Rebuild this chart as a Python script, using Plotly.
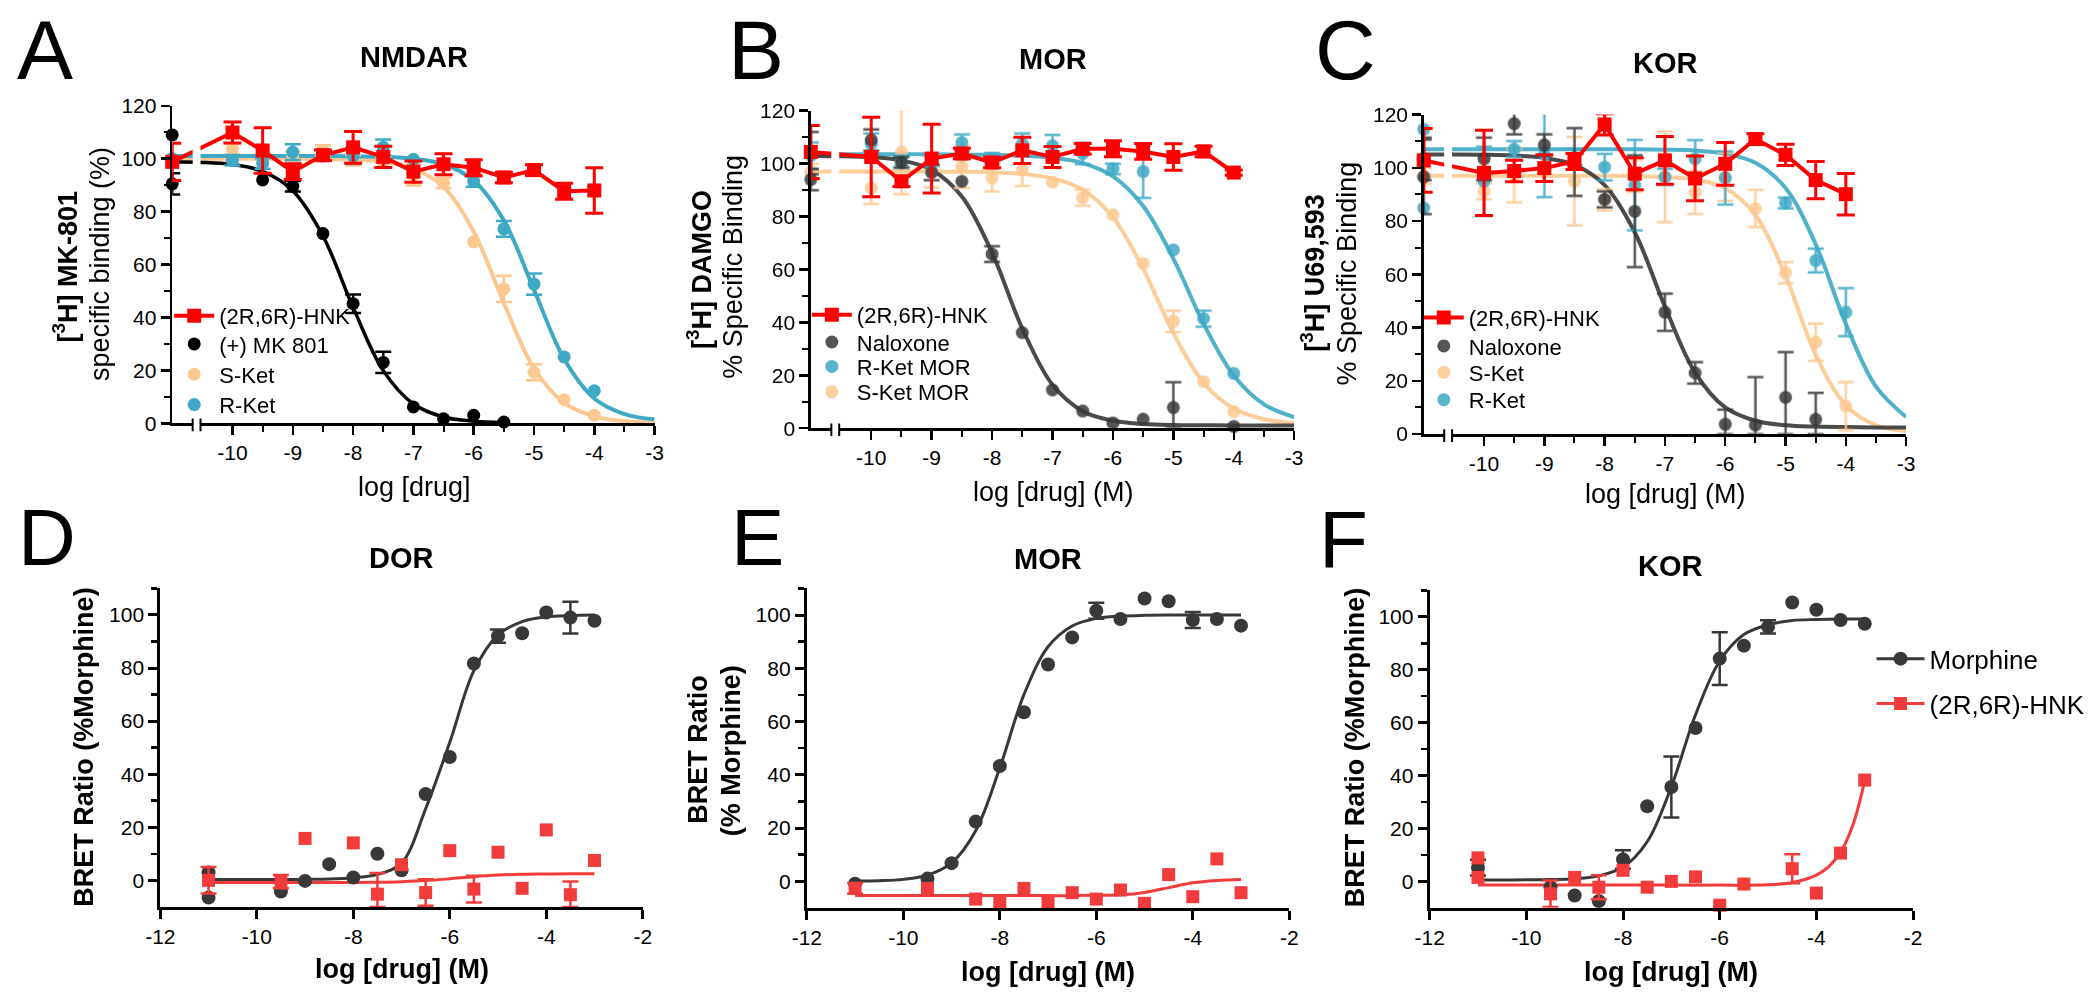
import plotly.graph_objects as go

W, H = 2100, 998
FONT = "Liberation Sans, Arial, Helvetica, sans-serif"

RED = "#FF0000"
RED_B = "#F23C3C"
BLACK = "#000000"
DARK = "#383838"
CYAN = "#3EA9C5"
PEACH = "#FDC890"

# ---------------- axis ticks ----------------
TOP_XTICKS = [-10, -9, -8, -7, -6, -5, -4, -3]
TOP_XTICKTEXT = ["-10", "-9", "-8", "-7", "-6", "-5", "-4", "-3"]
TOP_XMINOR = [-9.5, -8.5, -7.5, -6.5, -5.5, -4.5, -3.5]
TOP_YTICKS = [0, 20, 40, 60, 80, 100, 120]
TOP_YMINOR = [10, 30, 50, 70, 90, 110]
BOT_XTICKS = [-12, -10, -8, -6, -4, -2]
BOT_XTICKTEXT = ["-12", "-10", "-8", "-6", "-4", "-2"]
BOT_YTICKS = [0, 20, 40, 60, 80, 100]
BOT_YMINOR = [10, 30, 50, 70, 90, 110]

FIT_X = [-11, -10.5, -10, -9.5, -9, -8.5, -8, -7.5, -7, -6.5, -6, -5.5, -5, -4.5, -4, -3.5, -3]

# ---------------- Panel A : NMDAR ----------------
A_X = [-11, -10, -9.5, -9, -8.5, -8, -7.5, -7, -6.5, -6, -5.5, -5, -4.5, -4]
A_HNK = [98.8, 109.9, 103.1, 95.1, 101.3, 104.3, 100.7, 95.1, 97.9, 96.6, 92.9, 95.7, 87.7, 88.0]
A_HNK_ERR = [7, 4, 8.6, 3, 2, 6, 4, 4, 4, 3, 2, 2, 3, 8.6]
A_MK_X = [-11, -11, -9.5, -9, -8.5, -8, -7.5, -7, -6.5, -6, -5.5]
A_MK = [109.0, 90.5, 92.0, 89.6, 71.7, 45.2, 23.0, 6.2, 1.7, 3.0, 0.5]
A_MK_ERR = [0, 4, 0, 2, 0, 3.5, 4, 0, 0, 0, 0]
A_SKET = [100, 103.7, 99.5, 100.7, 103.1, 99.4, 98.8, 93.9, 90.8, 68.6, 50.8, 19.3, 8.9, 3.0]
A_SKET_ERR = [0, 2, 0, 2, 2, 2, 2, 4, 2, 0, 5, 3, 0, 0]
A_RKET = [100, 99.4, 98.2, 102.5, 101.0, 101.0, 104.3, 99.8, 98.0, 91.4, 73.5, 52.6, 25.1, 12.3]
A_RKET_ERR = [0, 2, 2, 3, 0, 3, 3, 0, 0, 2, 3, 4, 0, 0]
A_MK_FIT = [98.7, 98.6, 97.8, 95.2, 87.9, 70.8, 43.8, 19.9, 7.3, 2.4, 0.8, 0.3]
A_SKET_FIT = [100, 100, 100, 100, 100, 99.9, 99.6, 98.8, 96.3, 89.3, 72.5, 45.4, 20.8, 7.7, 2.6, 0.8, 0.3]
A_RKET_FIT = [101, 101, 101, 101, 101, 101, 100.9, 100.7, 100.0, 97.9, 91.8, 76.7, 50.5, 24.3, 9.4, 3.5, 1.5]

# ---------------- Panel B : MOR binding ----------------
B_X = [-11, -10, -9.5, -9, -8.5, -8, -7.5, -7, -6.5, -6, -5.5, -5, -4.5, -4]
B_HNK = [104.4, 102.5, 93.3, 101.9, 103.8, 100.4, 105.0, 102.5, 105.6, 105.6, 104.6, 102.5, 104.6, 96.6]
B_HNK_ERR = [10, 15, 2, 13, 2, 2, 5, 4, 2, 3, 3, 5, 2, 1]
B_NAL_X = [-11, -11, -10, -9.5, -9, -8.5, -8, -7.5, -7, -6.5, -6, -5.5, -5, -4]
B_NAL = [104, 94, 108.9, 100.4, 96.7, 93.3, 65.8, 36.1, 14.5, 6.5, 2.0, 3.4, 7.8, 0.7]
B_NAL_ERR = [8, 4, 4, 2, 3, 0, 3, 0, 0, 0, 0, 0, 9.6, 0]
B_RKET = [103, 107.4, 101, 101, 108, 102, 107.4, 106.8, 103.8, 98.0, 97.0, 67.4, 41.4, 20.7]
B_RKET_ERR = [5, 4, 2, 2, 3, 2, 4, 4, 4, 2, 10, 0, 3, 0]
B_SKET = [97, 90.8, 104.4, 97, 98.8, 94.5, 97.6, 93.0, 87.1, 80.7, 62.3, 40.4, 17.6, 6.2]
B_SKET_ERR = [3, 6, 16, 6, 8, 5, 6, 0, 3, 0, 0, 4, 0, 0]
B_NAL_FIT = [102.9, 102.8, 102.4, 101.2, 97.6, 87.6, 66.3, 37.7, 16.4, 6.4, 2.8, 1.6, 1.2, 1.1, 1.0, 1.0, 1.0]
B_RKET_FIT = [103.5, 103.5, 103.5, 103.5, 103.5, 103.4, 103.3, 103.0, 102.2, 100.2, 95.2, 84.0, 64.1, 39.5, 19.9, 9.0, 4.2]
B_SKET_FIT = [97.0, 97.0, 97.0, 97.0, 97.0, 96.9, 96.7, 96.1, 94.4, 90.1, 79.7, 60.2, 35.9, 17.2, 7.4, 3.4, 1.9]

# ---------------- Panel C : KOR binding ----------------
C_X = [-11, -10, -9.5, -9, -8.5, -8, -7.5, -7, -6.5, -6, -5.5, -5, -4.5, -4]
C_HNK = [102.8, 98.1, 98.8, 99.9, 102.4, 116.3, 97.8, 102.8, 96.0, 101.5, 110.8, 104.9, 95.4, 90.1]
C_HNK_ERR = [12, 16, 4, 5, 3, 4, 6, 9, 8.4, 8, 2, 4, 7, 7.8]
C_NAL_X = [-11, -11, -10, -9.5, -9, -8.5, -8, -7.5, -7, -6.5, -6, -5.5, -5, -4.5]
C_NAL = [103.4, 96.6, 103.4, 116.6, 108.6, 102.2, 88.2, 83.7, 45.8, 23.0, 3.7, 3.4, 13.8, 5.5]
C_NAL_ERR = [8, 14, 8, 4, 4, 12.7, 3, 21, 7, 4, 5.5, 18, 17, 10]
C_SKET = [97, 91.3, 97, 100, 95, 88, 97, 96.6, 90.7, 96.6, 84.7, 60.6, 34.5, 10.5]
C_SKET_ERR = [3, 3, 10, 5, 16.6, 4, 6, 17, 8, 9, 7, 4, 7, 9]
C_RKET_X = [-11, -11, -10, -9.5, -9, -8.5, -8, -7.5, -7, -6.5, -6, -5, -4.5, -4]
C_RKET = [114.5, 84.9, 95, 107, 105, 104, 100.3, 93.5, 96.6, 103.4, 96.2, 86.8, 65.2, 45.8]
C_RKET_ERR = [0, 0, 13, 3, 16, 3, 5, 17, 3, 7, 10, 2, 4.5, 9]
C_NAL_FIT = [105, 105.0, 104.9, 104.6, 103.7, 101.1, 93.5, 75.8, 47.9, 23.1, 10.0, 5.0, 3.3, 2.8, 2.6, 2.5, 2.5]
C_SKET_FIT = [97, 97, 97, 97, 97, 97, 97, 96.9, 96.6, 95.6, 92.3, 82.3, 59.4, 29.8, 10.8, 3.3, 1.0]
C_RKET_FIT = [107, 107, 107, 107, 107, 107, 107, 107, 106.8, 106.5, 105.3, 101.9, 92.4, 71.3, 41.4, 17.8, 6.4]

# ---------------- Panel D : DOR BRET ----------------
D_MOR_X = [-11, -11, -9.5, -9, -8.5, -8, -7.5, -7, -6.5, -6, -5.5, -5, -4.5, -4, -3.5, -3]
D_MOR = [3, -6.5, -4.2, -0.2, 6.1, 1.1, 10.0, 3.8, 32.5, 46.5, 81.7, 92.0, 93.1, 100.9, 99.0, 97.8]
D_MOR_ERR = [0, 0, 0, 0, 0, 0, 0, 0, 0, 0, 0, 2.5, 0, 0, 6, 0]
D_HNK_X = [-11, -9.5, -9, -8, -7.5, -7, -6.5, -6, -5.5, -5, -4.5, -4, -3.5, -3]
D_HNK = [0, -0.5, 15.8, 14.1, -5.2, 5.9, -4.6, 11.2, -3.3, 10.6, -3.0, 19.0, -5.4, 7.5]
D_HNK_ERR = [5, 2.5, 0, 0, 8, 0, 5, 0, 5, 0, 0, 0, 5, 0]
D_MOR_FIT = [0.3, 0.3, 0.3, 0.3, 0.4, 0.5, 1.0, 2.2, 6.5, 27.0, 52.0, 79.0, 92.5, 97.5, 99.3, 99.8, 100]
D_HNK_FIT = [-0.8, -0.8, -0.8, -0.8, -0.8, -0.8, -0.8, -0.7, -0.5, -0.1, 0.6, 1.4, 2.0, 2.3, 2.4, 2.5, 2.5]

# ---------------- Panel E : MOR BRET ----------------
E_MOR_X = [-11, -9.5, -9, -8.5, -8, -7.5, -7, -6.5, -6, -5.5, -5, -4.5, -4, -3.5, -3]
E_MOR = [-0.9, 1.0, 6.8, 22.4, 43.3, 63.5, 81.4, 91.6, 101.6, 98.5, 106.2, 105.2, 98.1, 98.5, 96.0]
E_MOR_ERR = [0, 0, 0, 0, 0, 0, 0, 0, 3, 0, 0, 0, 3, 0, 0]
E_HNK_X = [-11, -9.5, -8.5, -8, -7.5, -7, -6.5, -6, -5.5, -5, -4.5, -4, -3.5, -3]
E_HNK = [-2.7, -2.7, -6.7, -8.3, -2.7, -8.3, -4.3, -6.7, -3.3, -8.3, 2.5, -5.8, 8.4, -4.3]
E_HNK_ERR = [2, 0, 0, 0, 0, 0, 0, 0, 0, 0, 0, 0, 0, 0]
E_MOR_FIT = [0.1, 0.2, 0.7, 2.3, 6.9, 19.0, 42.6, 70.1, 88.1, 95.9, 98.7, 99.6, 99.9, 100, 100, 100, 100]
E_HNK_FIT = [-5.4, -5.4, -5.4, -5.4, -5.4, -5.4, -5.4, -5.4, -5.4, -5.4, -5.3, -5.1, -4.2, -2.4, -0.6, 0.3, 0.7]

# ---------------- Panel F : KOR BRET ----------------
F_MOR_X = [-11, -9.5, -9, -8.5, -8, -7.5, -7, -6.5, -6, -5.5, -5, -4.5, -4, -3.5, -3]
F_MOR = [5.2, -2.2, -5.3, -7.4, 8.3, 28.4, 35.7, 58.0, 84.2, 89.1, 96.2, 105.4, 102.7, 98.8, 97.4]
F_MOR_ERR = [3, 0, 0, 0, 3.5, 0, 11.5, 0, 10, 0, 2.5, 0, 0, 0, 0]
F_HNK_X = [-11, -11, -9.5, -9, -8.5, -8, -7.5, -7, -6.5, -6, -5.5, -4.5, -4, -3.5, -3]
F_HNK = [8.9, 1.5, -4.7, 1.5, -2.2, 4.2, -2.2, 0, 1.7, -9.0, -1.0, 4.8, -4.4, 10.7, 38.3]
F_HNK_ERR = [0, 0, 5, 0, 4.5, 0, 0, 0, 0, 0, 0, 5.5, 0, 0, 0]
F_MOR_FIT = [0.5, 0.5, 0.6, 0.7, 1.0, 2.1, 5.4, 15.0, 35.8, 63.0, 83.3, 93.3, 97.0, 98.6, 99.0, 99.2, 99.2]
F_HNK_FIT_X = [-11, -10, -9, -8, -7, -6, -5, -4.5, -4, -3.75, -3.5, -3.25, -3]
F_HNK_FIT = [-1.4, -1.4, -1.4, -1.4, -1.4, -1.4, -1.3, -0.4, 2.4, 5.5, 11.0, 21.0, 38.0]

# ---------------- layout helpers ----------------
def fx(p):
    return p / W


def fy(p):
    return 1 - p / H


PANELS = {
    "A": ("x", "y", (159, 647), (96, 421)),
    "B": ("x2", "y2", (805, 1294), (101, 426)),
    "C": ("x3", "y3", (1425, 1913), (105, 432)),
    "D": ("x4", "y4", (147, 635), (590, 916)),
    "E": ("x5", "y5", (801, 1289), (590, 917)),
    "F": ("x6", "y6", (1431, 1920), (592, 917)),
}

fig = go.Figure()


def curve(panel, x, y, color, width=3.5, opacity=1.0):
    xa, ya = PANELS[panel][0], PANELS[panel][1]
    fig.add_trace(go.Scatter(
        x=x, y=y, mode="lines", xaxis=xa, yaxis=ya, opacity=opacity,
        line=dict(color=color, width=width, shape="spline", smoothing=1.0),
        showlegend=False, hoverinfo="skip"))


def points(panel, x, y, err, color, symbol, size, ymin, mode="markers",
           lw=0, opacity=1.0, name=None, legend=None, ethick=2.5, ewidth=8):
    xa, ya = PANELS[panel][0], PANELS[panel][1]
    # error bars only where one is visible; lower half clipped at the axis floor
    idx = [i for i, e in enumerate(err) if e]
    ex = [x[i] for i in idx]
    ey = [y[i] for i in idx]
    ep = [err[i] for i in idx]
    em = [min(err[i], max(y[i] - ymin, 0)) for i in idx]
    if idx:
        fig.add_trace(go.Scatter(
            x=ex, y=ey, mode="markers", xaxis=xa, yaxis=ya, opacity=opacity,
            marker=dict(color=color, symbol=symbol, size=size, opacity=0),
            error_y=dict(type="data", array=ep, arrayminus=em, symmetric=False,
                         color=color, thickness=ethick, width=ewidth, visible=True),
            cliponaxis=False, showlegend=False, hoverinfo="skip"))
    fig.add_trace(go.Scatter(
        x=x, y=y, mode=mode, xaxis=xa, yaxis=ya, opacity=opacity,
        marker=dict(color=color, symbol=symbol, size=size, line=dict(width=0)),
        line=dict(color=color, width=lw),
        cliponaxis=False, name=name if name else "",
        showlegend=legend is not None, legend=legend if legend else "legend"))


def legend_only(panel, color, symbol, size, lw, name, legend):
    xa, ya = PANELS[panel][0], PANELS[panel][1]
    fig.add_trace(go.Scatter(
        x=[None], y=[None], mode="lines+markers", xaxis=xa, yaxis=ya,
        marker=dict(color=color, symbol=symbol, size=size),
        line=dict(color=color, width=lw), name=name, showlegend=True, legend=legend))


# ---------------- Panel A ----------------
curve("A", FIT_X, A_SKET_FIT, PEACH, 4)
curve("A", FIT_X, A_RKET_FIT, CYAN, 4)
curve("A", FIT_X[:len(A_MK_FIT)], A_MK_FIT, BLACK, 3.5)
points("A", A_X, A_SKET, A_SKET_ERR, PEACH, "circle", 13, 0, name="S-Ket", legend="legend3")
points("A", A_X, A_RKET, A_RKET_ERR, CYAN, "circle", 13, 0, name="R-Ket", legend="legend4")
points("A", A_MK_X, A_MK, A_MK_ERR, BLACK, "circle", 13, 0, name="(+) MK 801", legend="legend2")
points("A", A_X, A_HNK, A_HNK_ERR, RED, "square", 14, 0, mode="lines+markers", lw=4,
       name="(2R,6R)-HNK", legend="legend", ethick=3, ewidth=9)

# ---------------- Panel B ----------------
curve("B", FIT_X, B_SKET_FIT, PEACH, 4, 0.9)
curve("B", FIT_X, B_RKET_FIT, CYAN, 4, 0.9)
curve("B", FIT_X, B_NAL_FIT, DARK, 4, 0.9)
points("B", B_X, B_SKET, B_SKET_ERR, PEACH, "circle", 13, 0, opacity=0.85, name="S-Ket MOR", legend="legend8")
points("B", B_X, B_RKET, B_RKET_ERR, CYAN, "circle", 13, 0, opacity=0.85, name="R-Ket MOR", legend="legend7")
points("B", B_NAL_X, B_NAL, B_NAL_ERR, DARK, "circle", 13, 0, opacity=0.85, name="Naloxone", legend="legend6")
points("B", B_X, B_HNK, B_HNK_ERR, RED, "square", 14, 0, mode="lines+markers", lw=4,
       name="(2R,6R)-HNK", legend="legend5", ethick=3, ewidth=9)

# ---------------- Panel C ----------------
curve("C", FIT_X, C_SKET_FIT, PEACH, 4, 0.9)
curve("C", FIT_X, C_RKET_FIT, CYAN, 4, 0.9)
curve("C", FIT_X, C_NAL_FIT, DARK, 4, 0.9)
points("C", C_X, C_SKET, C_SKET_ERR, PEACH, "circle", 13, 0, opacity=0.85, name="S-Ket", legend="legend11")
points("C", C_RKET_X, C_RKET, C_RKET_ERR, CYAN, "circle", 13, 0, opacity=0.85, name="R-Ket", legend="legend12")
points("C", C_NAL_X, C_NAL, C_NAL_ERR, DARK, "circle", 13, 0, opacity=0.85, name="Naloxone", legend="legend10")
points("C", C_X, C_HNK, C_HNK_ERR, RED, "square", 14, 0, mode="lines+markers", lw=4,
       name="(2R,6R)-HNK", legend="legend9", ethick=3, ewidth=9)

# ---------------- Panel D ----------------
curve("D", FIT_X, D_MOR_FIT, DARK, 3)
curve("D", FIT_X, D_HNK_FIT, RED_B, 3)
points("D", D_MOR_X, D_MOR, D_MOR_ERR, DARK, "circle", 14, -10)
points("D", D_HNK_X, D_HNK, D_HNK_ERR, RED_B, "square", 13, -10)

# ---------------- Panel E ----------------
curve("E", FIT_X, E_MOR_FIT, DARK, 3)
curve("E", FIT_X, E_HNK_FIT, RED_B, 3)
points("E", E_MOR_X, E_MOR, E_MOR_ERR, DARK, "circle", 14, -10)
points("E", E_HNK_X, E_HNK, E_HNK_ERR, RED_B, "square", 13, -10)

# ---------------- Panel F ----------------
curve("F", FIT_X, F_MOR_FIT, DARK, 3)
curve("F", F_HNK_FIT_X, F_HNK_FIT, RED_B, 3)
points("F", F_MOR_X, F_MOR, F_MOR_ERR, DARK, "circle", 14, -10)
points("F", F_HNK_X, F_HNK, F_HNK_ERR, RED_B, "square", 13, -10)
legend_only("F", DARK, "circle", 14, 3, "Morphine", "legend13")
legend_only("F", RED_B, "square", 13, 3, "(2R,6R)-HNK", "legend14")

# ---------------- axes ----------------
tickfont = dict(family=FONT, size=21, color="black")
layout_axes = {}
for key, (xa, ya, (x0, x1), (y0, y1)) in PANELS.items():
    xname = "xaxis" + xa[1:]
    yname = "yaxis" + ya[1:]
    top = key in "ABC"
    lw = 2.5 if top else 3
    xd = dict(domain=[fx(x0), fx(x1)], anchor=ya, showgrid=False, zeroline=False,
              showline=True, linecolor="black", linewidth=lw, ticks="outside",
              ticklen=9, tickwidth=lw, tickcolor="black", tickfont=tickfont,
              fixedrange=True)
    yd = dict(domain=[fy(y1), fy(y0)], anchor=xa, showgrid=False, zeroline=False,
              showline=True, linecolor="black", linewidth=lw, ticks="outside",
              ticklen=9, tickwidth=lw, tickcolor="black", tickfont=tickfont,
              fixedrange=True)
    if top:
        xd.update(range=[-11, -3], tickmode="array", tickvals=TOP_XTICKS, ticktext=TOP_XTICKTEXT,
                  minor=dict(tickvals=TOP_XMINOR, ticks="outside", ticklen=6, tickwidth=2, tickcolor="black"))
        yd.update(range=[0, 120], tickmode="array", tickvals=TOP_YTICKS,
                  ticktext=[str(v) for v in TOP_YTICKS],
                  minor=dict(tickvals=TOP_YMINOR, ticks="outside", ticklen=6, tickwidth=2, tickcolor="black"))
    else:
        xd.update(range=[-12, -2], tickmode="array", tickvals=BOT_XTICKS, ticktext=BOT_XTICKTEXT)
        yd.update(range=[-10, 110], tickmode="array", tickvals=BOT_YTICKS,
                  ticktext=[str(v) for v in BOT_YTICKS],
                  minor=dict(tickvals=BOT_YMINOR, ticks="outside", ticklen=6, tickwidth=2.5, tickcolor="black"))
    layout_axes[xname] = xd
    layout_axes[yname] = yd

# ---------------- axis breaks (top row) ----------------
shapes = []
for key in "ABC":
    xa, ya = PANELS[key][0], PANELS[key][1]
    shapes.append(dict(type="rect", xref=xa, yref=ya + " domain", x0=-10.66, x1=-10.53,
                       y0=-0.02, y1=1.0, fillcolor="white", line=dict(width=0), layer="above"))
    for bx in (-10.66, -10.53):
        shapes.append(dict(type="line", xref=xa, yref=ya + " domain", x0=bx, x1=bx,
                           y0=-0.025, y1=0.015, line=dict(color="black", width=2), layer="above"))

# ---------------- annotations ----------------
ann = []


def text(t, x, y, size, angle=0):
    ann.append(dict(text=t, x=fx(x), y=fy(y), xref="paper", yref="paper", xanchor="center",
                    yanchor="middle", showarrow=False, textangle=angle,
                    font=dict(family=FONT, size=size, color="black")))


for t, x, y, s in [("A", 30, 39, 84), ("B", 750, 39, 84), ("C", 1346, 39, 84),
                   ("D", 32, 538, 80), ("E", 751, 538, 80), ("F", 1344, 540, 80)]:
    text(t, x, y, s)
for t, x, y in [("NMDAR", 404, 46), ("MOR", 1050, 48), ("KOR", 1670, 52),
                ("DOR", 391, 559), ("MOR", 1045, 560), ("KOR", 1675, 567)]:
    text("<b>" + t + "</b>", x, y, 29)
text("log [drug]", 404, 486, 27)
text("log [drug] (M)", 1050, 491, 27)
text("log [drug] (M)", 1670, 493, 27)
for x, y in [(391, 980), (1045, 983), (1675, 983)]:
    text("<b>log [drug] (M)</b>", x, y, 27)
text("<b>[<sup>3</sup>H] MK-801</b>", 51, 260, 27, -90)
text("specific binding (%)", 86, 258, 27, -90)
text("<b>[<sup>3</sup>H] DAMGO</b>", 692, 264, 27, -90)
text("% Specific Binding", 726, 261, 27, -90)
text("<b>[<sup>3</sup>H] U69,593</b>", 1313, 267, 27, -90)
text("% Specific Binding", 1347, 268, 27, -90)
text("<b>BRET Ratio (%Morphine)</b>", 69, 753, 27, -90)
text("<b>BRET Ratio</b>", 690, 755, 27, -90)
text("<b>(% Morphine)</b>", 724, 756, 27, -90)
text("<b>BRET Ratio (%Morphine)</b>", 1355, 753, 27, -90)

# ---------------- legends (one entry each, placed individually) ----------------
legends = {}
LEG_POS = [
    ("legend", 163, 311, 22, 40), ("legend2", 163, 340, 22, 40), ("legend3", 163, 371, 22, 40),
    ("legend4", 163, 402, 22, 40),
    ("legend5", 808, 310, 22, 40), ("legend6", 808, 338, 22, 40), ("legend7", 808, 363, 22, 40),
    ("legend8", 808, 389, 22, 40),
    ("legend9", 1427, 313, 22, 40), ("legend10", 1427, 342, 22, 40), ("legend11", 1427, 369, 22, 40),
    ("legend12", 1427, 397, 22, 40),
    ("legend13", 1885, 662, 26, 48), ("legend14", 1885, 708, 26, 48),
]
for name, x, y, s, iw in LEG_POS:
    legends[name] = dict(x=fx(x - 7), y=fy(y), xanchor="left", yanchor="middle",
                         bgcolor="rgba(0,0,0,0)", borderwidth=0, itemwidth=iw,
                         font=dict(family=FONT, size=s, color="black"))

fig.update_layout(
    width=W, height=H, margin=dict(l=0, r=0, t=0, b=0),
    paper_bgcolor="white", plot_bgcolor="white",
    font=dict(family=FONT, color="black"),
    shapes=shapes, annotations=ann, **layout_axes, **legends,
)

fig.write_html("out.html", config={"displayModeBar": False, "staticPlot": True},
               post_script="document.body.style.margin='0px';")
